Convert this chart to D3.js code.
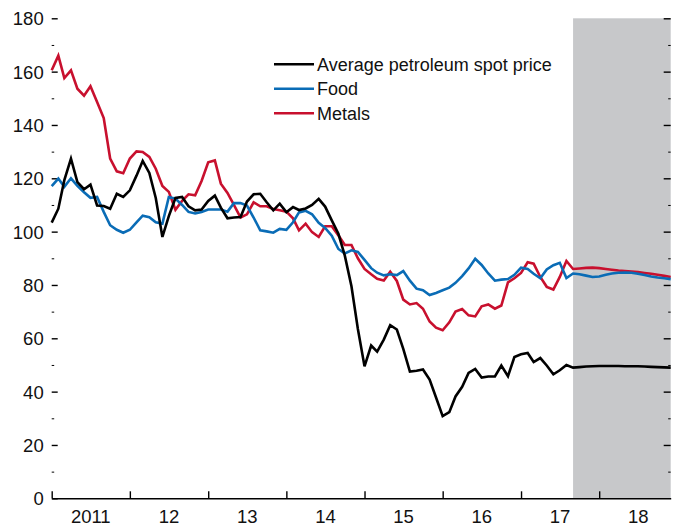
<!DOCTYPE html>
<html>
<head>
<meta charset="utf-8">
<script src="https://cdn.jsdelivr.net/npm/d3@7"></script>
<style>
  body { margin: 0; background: #fff; }
  svg text { font-family: "Liberation Sans", Arial, sans-serif; fill: #111; }
</style>
</head>
<body>
<div id="chart"></div>
<script>
// monthly index values, Jan 2011 - Dec 2018 (forecast from Sep 2017)
const yearLabels = ["2011", "12", "13", "14", "15", "16", "17", "18"]
const seriesNames = ["Average petroleum spot price", "Food", "Metals"]
const seriesColors = ["#000000", "#0a6cb6", "#c8102e"]

const petroleum = [
  103.4, 108.6, 119.3, 127.4, 118.6, 115.9, 117.6, 109.8, 109.6, 108.6, 114.2, 113,
  115.5, 121, 126.5, 122, 112.6, 98, 105.8, 112.6, 113, 109.5, 108, 108.3,
  111.5, 113.5, 109, 105, 105.3, 105.5, 111.3, 114, 114.2, 111, 108, 110.5,
  107.3, 109.2, 108.1, 108.7, 110, 112.3, 109.4, 104.2, 99.2, 91, 79.5, 63.5,
  49.5, 57.3, 55, 59.5, 64.9, 63.3, 56, 47.5, 47.8, 48.3, 44.5, 37.8,
  30.8, 32.3, 38.2, 41.8, 47, 48.5, 45.3, 45.7, 45.7, 49.8, 45.8, 53,
  54, 54.5, 51.1, 52.6, 49.8, 46.5, 48, 50, 49, 49.2, 49.4, 49.5,
  49.6, 49.6, 49.6, 49.6, 49.5, 49.5, 49.5, 49.4, 49.3, 49.2, 49.1, 49
]
const food = [
  117.1, 119.9, 116.8, 120, 117.2, 114.8, 112.7, 113, 107.4, 102.4, 100.7, 99.6,
  100.7, 103.5, 106, 105.4, 103.5, 103, 113, 112.4, 110, 107.4, 106.8, 107.4,
  108.3, 108.3, 108.3, 107.5, 110.7, 110.7, 109.8, 105.3, 100.5, 100.1, 99.6, 101,
  100.7, 103.5, 107.2, 107.8, 106.5, 103.3, 101.4, 98.5, 93.5, 91.8, 93, 92.4,
  89.4, 86.3, 84.6, 83.6, 84, 83.7, 85.2, 81.6, 78.6, 78, 76.2, 77,
  78, 79, 80.8, 83.3, 86.2, 89.8, 87.5, 84.3, 81.6, 82, 82.2, 83.8,
  86.5, 86, 84.2, 82.5, 85.8, 87.4, 88.3, 82.6, 84.3, 84, 83.5, 83,
  83.2, 83.8, 84.3, 84.6, 84.7, 84.6, 84.2, 83.7, 83.2, 82.8, 82.5, 82.2
]
const metals = [
  160.5, 166, 157.6, 160.5, 153.6, 151, 154.5, 148.6, 142.6, 127.4, 122.6, 121.9,
  127.4, 130.1, 129.9, 128, 123.6, 117.1, 114.9, 108.2, 111.5, 114, 113.6, 119,
  126, 126.7, 118, 114.5, 110, 105.3, 106.5, 111, 109.5, 109.5, 108.5, 108,
  107.5, 105, 100.5, 103, 99.8, 98, 102, 102, 98.6, 95, 95, 90,
  86, 84, 82.3, 81.7, 85, 81.5, 74.5, 72.7, 73.2, 71.1, 66.3, 64,
  63, 66, 70, 71, 68.6, 68.2, 72, 72.7, 71.1, 72.3, 81, 82.5,
  84.5, 88.5, 88, 83, 79.3, 78.3, 83, 89, 86, 86.2, 86.4, 86.5,
  86.3, 86, 85.7, 85.4, 85.2, 85, 84.8, 84.5, 84.2, 83.8, 83.4, 83
]
const yMajor = [20, 40, 60, 80, 100, 120, 140, 160, 180]
const yMinor = [10, 30, 50, 70, 90, 110, 130, 150, 170]
const forecastStart = new Date(2017, 8, 1)

const width = 678, height = 527
const margin = { top: 18.3, right: 7.3, bottom: 28.7, left: 51.7 }

const months = d3.timeMonth.range(new Date(2011, 0, 1), new Date(2019, 0, 1))
const allSeries = [petroleum, food, metals]

const x = d3.scaleTime()
  .domain([months[0], months[months.length - 1]])
  .range([margin.left, width - margin.right])
const y = d3.scaleLinear()
  .domain([0, 180])
  .range([height - margin.bottom, margin.top])

const svg = d3.select("#chart").append("svg")
  .attr("width", width)
  .attr("height", height)

// forecast shading
svg.append("rect")
  .attr("x", x(forecastStart))
  .attr("y", y(180))
  .attr("width", x.range()[1] - x(forecastStart))
  .attr("height", y(0) - y(180))
  .attr("fill", "#c7c8ca")

// left axis
const left = svg.append("g").attr("transform", `translate(${margin.left},0)`)
left.call(d3.axisLeft(y).tickValues([0].concat(yMajor)).tickSize(-6).tickPadding(8))
left.select(".domain").remove()
left.selectAll("text").style("font-size", "18.5px").attr("dy", "0.36em")
left.selectAll("line").attr("stroke-width", 1.4)
const leftMinor = svg.append("g").attr("transform", `translate(${margin.left},0)`)
leftMinor.call(d3.axisLeft(y).tickValues(yMinor).tickSize(-2.5).tickFormat(""))
leftMinor.select(".domain").remove()

// right axis (ticks only)
const right = svg.append("g").attr("transform", `translate(${width - margin.right},0)`)
right.call(d3.axisRight(y).tickValues(yMajor).tickSize(-7).tickFormat(""))
right.select(".domain").remove()
right.selectAll("line").attr("stroke-width", 1.4)
const rightMinor = svg.append("g").attr("transform", `translate(${width - margin.right},0)`)
rightMinor.call(d3.axisRight(y).tickValues(yMinor).tickSize(-2.5).tickFormat(""))
rightMinor.select(".domain").remove()

// bottom axis
const years = d3.timeYear.range(new Date(2011, 0, 1), new Date(2019, 0, 1))
const bottom = svg.append("g").attr("transform", `translate(0,${y(0)})`)
bottom.call(d3.axisBottom(x).tickValues(years).tickSize(-7).tickSizeOuter(0).tickFormat(""))
bottom.select(".domain").attr("stroke-width", 1.5)
bottom.selectAll("line").attr("stroke-width", 1.4)

bottom.selectAll(".year-label")
  .data(years)
  .join("text")
  .attr("class", "year-label")
  .attr("x", d => (x(d) + x(d3.timeMonth.offset(d, 12))) / 2)
  .attr("y", 24.5)
  .attr("text-anchor", "middle")
  .style("font-size", "18.5px")
  .text((d, i) => yearLabels[i])

// lines
const line = d3.line()
  .x((d, i) => x(months[i]))
  .y(d => y(d))

const drawOrder = [2, 1, 0]
drawOrder.forEach(k => {
  svg.append("path")
    .datum(allSeries[k])
    .attr("fill", "none")
    .attr("stroke", seriesColors[k])
    .attr("stroke-width", 2.6)
    .attr("stroke-linejoin", "miter")
    .attr("d", line)
})

// legend
const legend = svg.append("g").attr("transform", "translate(274,64.3)")
seriesNames.forEach((name, i) => {
  const row = legend.append("g").attr("transform", `translate(0,${i * 24.5})`)
  row.append("line")
    .attr("x1", 0).attr("x2", 40)
    .attr("stroke", seriesColors[i])
    .attr("stroke-width", 2.6)
  row.append("text")
    .attr("x", 43)
    .attr("dy", "0.36em")
    .style("font-size", "18px")
    .text(name)
})
</script>
</body>
</html>
